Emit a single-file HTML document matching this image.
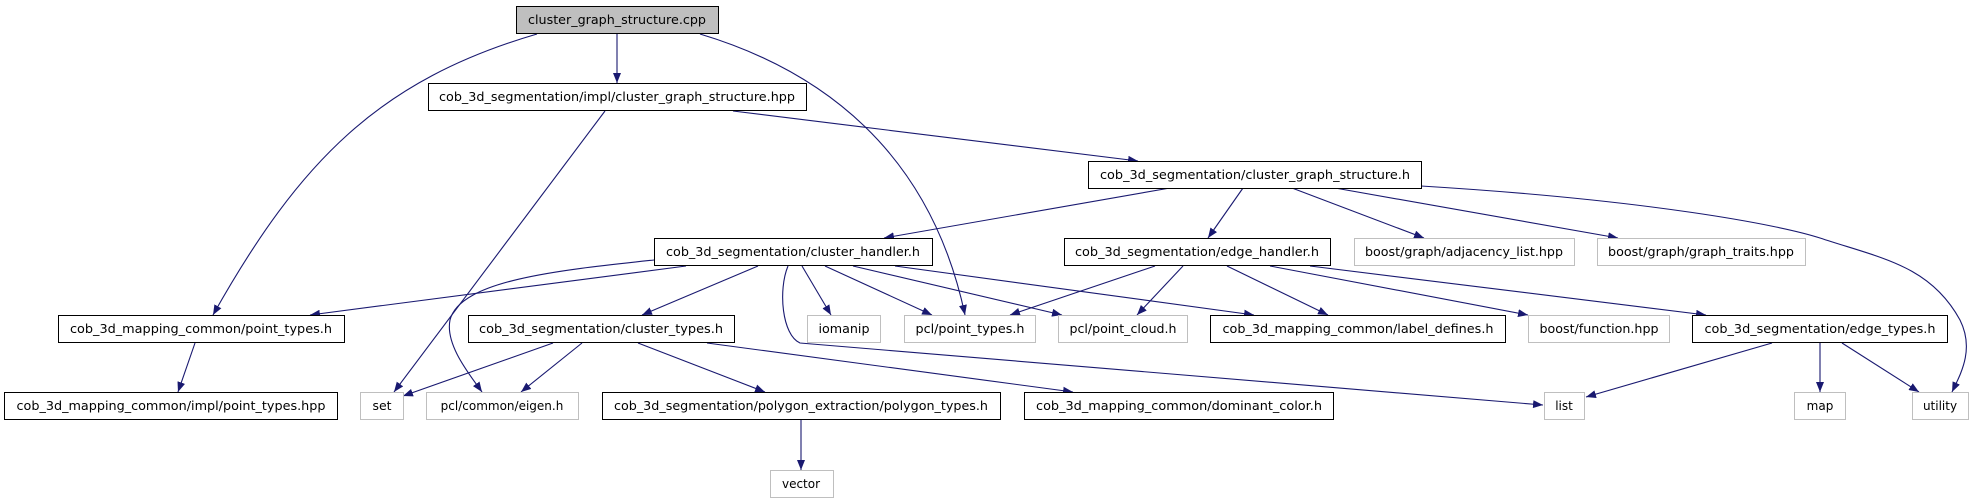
<!DOCTYPE html>
<html><head><meta charset="utf-8"><style>
html,body{margin:0;padding:0;background:#fff;}
svg{display:block;}
text{font-family:"DejaVu Sans","Liberation Sans",sans-serif;font-size:12px;fill:#000;}
</style></head><body>
<svg width="1973" height="504" viewBox="0 0 1973 504" xmlns="http://www.w3.org/2000/svg">
<defs>
<marker id="a" markerWidth="11" markerHeight="8" refX="10" refY="4" orient="auto" markerUnits="userSpaceOnUse">
<path d="M0,0 L10,4 L0,8 Z" fill="#191970"/>
</marker>
</defs>
<g fill="none" stroke="#191970" stroke-width="1.1" marker-end="url(#a)">
<path d="M617,34 L617,83"/>
<path d="M537,34 C380,80 300,160 213,315"/>
<path d="M700,34 C820,70 930,150 965,315"/>
<path d="M733,111 L1138,161"/>
<path d="M605,111 L394,392"/>
<path d="M1170,188 L884,238"/>
<path d="M1243,188 L1208,238"/>
<path d="M1292,188 L1424,238"/>
<path d="M1335,188 L1618,238"/>
<path d="M1421,186 C1650,200 1780,225 1820,238 C1880,258 1930,265 1960,320 C1975,350 1960,375 1952,392"/>
<path d="M686,266 L310,315"/>
<path d="M654,260 C560,270 460,280 450,320 C445,345 470,375 482,392"/>
<path d="M758,266 L642,315"/>
<path d="M802,266 L831,315"/>
<path d="M825,266 L932,315"/>
<path d="M853,266 L1062,315"/>
<path d="M895,266 L1254,315"/>
<path d="M788,266 C778,290 782,335 800,343 L1543,405"/>
<path d="M553,343 L403,396"/>
<path d="M582,343 L521,392"/>
<path d="M638,343 L765,392"/>
<path d="M707,343 L1073,392"/>
<path d="M801,420 L801,470"/>
<path d="M1155,266 L1010,315"/>
<path d="M1183,266 L1137,315"/>
<path d="M1227,266 L1328,315"/>
<path d="M1270,266 L1528,315"/>
<path d="M1310,266 L1706,315"/>
<path d="M1772,343 L1586,397"/>
<path d="M1820,343 L1820,392"/>
<path d="M1842,343 L1919,392"/>
<path d="M195,343 L178,392"/>
</g>
<g stroke-width="1">
<rect x="516.5" y="6.5" width="202" height="27" fill="#bfbfbf" stroke="#000"/>
<rect x="428.5" y="83.5" width="378" height="27" fill="#fff" stroke="#000"/>
<rect x="1088.5" y="161.5" width="333" height="27" fill="#fff" stroke="#000"/>
<rect x="654.5" y="238.5" width="278" height="27" fill="#fff" stroke="#000"/>
<rect x="1064.5" y="238.5" width="266" height="27" fill="#fff" stroke="#000"/>
<rect x="1354.5" y="238.5" width="220" height="27" fill="#fff" stroke="#bfbfbf"/>
<rect x="1597.5" y="238.5" width="208" height="27" fill="#fff" stroke="#bfbfbf"/>
<rect x="58.5" y="315.5" width="286" height="27" fill="#fff" stroke="#000"/>
<rect x="468.5" y="315.5" width="266" height="27" fill="#fff" stroke="#000"/>
<rect x="807.5" y="315.5" width="73" height="27" fill="#fff" stroke="#bfbfbf"/>
<rect x="904.5" y="315.5" width="131" height="27" fill="#fff" stroke="#bfbfbf"/>
<rect x="1058.5" y="315.5" width="129" height="27" fill="#fff" stroke="#bfbfbf"/>
<rect x="1210.5" y="315.5" width="295" height="27" fill="#fff" stroke="#000"/>
<rect x="1528.5" y="315.5" width="141" height="27" fill="#fff" stroke="#bfbfbf"/>
<rect x="1692.5" y="315.5" width="255" height="27" fill="#fff" stroke="#000"/>
<rect x="4.5" y="392.5" width="333" height="27" fill="#fff" stroke="#000"/>
<rect x="360.5" y="392.5" width="43" height="27" fill="#fff" stroke="#bfbfbf"/>
<rect x="426.5" y="392.5" width="152" height="27" fill="#fff" stroke="#bfbfbf"/>
<rect x="602.5" y="392.5" width="398" height="27" fill="#fff" stroke="#000"/>
<rect x="1024.5" y="392.5" width="309" height="27" fill="#fff" stroke="#000"/>
<rect x="1544.5" y="392.5" width="40" height="27" fill="#fff" stroke="#bfbfbf"/>
<rect x="1794.5" y="392.5" width="51" height="27" fill="#fff" stroke="#bfbfbf"/>
<rect x="1912.5" y="392.5" width="56" height="27" fill="#fff" stroke="#bfbfbf"/>
<rect x="770.5" y="470.5" width="63" height="27" fill="#fff" stroke="#bfbfbf"/>
</g>
<g text-anchor="middle" lengthAdjust="spacingAndGlyphs">
<text x="617" y="24" textLength="178" lengthAdjust="spacingAndGlyphs">cluster_graph_structure.cpp</text>
<text x="617" y="101" textLength="356" lengthAdjust="spacingAndGlyphs">cob_3d_segmentation/impl/cluster_graph_structure.hpp</text>
<text x="1255" y="179" textLength="310" lengthAdjust="spacingAndGlyphs">cob_3d_segmentation/cluster_graph_structure.h</text>
<text x="793" y="256" textLength="254" lengthAdjust="spacingAndGlyphs">cob_3d_segmentation/cluster_handler.h</text>
<text x="1197" y="256" textLength="244" lengthAdjust="spacingAndGlyphs">cob_3d_segmentation/edge_handler.h</text>
<text x="1464" y="256" textLength="198" lengthAdjust="spacingAndGlyphs">boost/graph/adjacency_list.hpp</text>
<text x="1701" y="256" textLength="186" lengthAdjust="spacingAndGlyphs">boost/graph/graph_traits.hpp</text>
<text x="201" y="333" textLength="262" lengthAdjust="spacingAndGlyphs">cob_3d_mapping_common/point_types.h</text>
<text x="601" y="333" textLength="244" lengthAdjust="spacingAndGlyphs">cob_3d_segmentation/cluster_types.h</text>
<text x="844" y="333" textLength="51" lengthAdjust="spacingAndGlyphs">iomanip</text>
<text x="970" y="333" textLength="109" lengthAdjust="spacingAndGlyphs">pcl/point_types.h</text>
<text x="1123" y="333" textLength="107" lengthAdjust="spacingAndGlyphs">pcl/point_cloud.h</text>
<text x="1358" y="333" textLength="271" lengthAdjust="spacingAndGlyphs">cob_3d_mapping_common/label_defines.h</text>
<text x="1599" y="333" textLength="119" lengthAdjust="spacingAndGlyphs">boost/function.hpp</text>
<text x="1820" y="333" textLength="231" lengthAdjust="spacingAndGlyphs">cob_3d_segmentation/edge_types.h</text>
<text x="171" y="410" textLength="309" lengthAdjust="spacingAndGlyphs">cob_3d_mapping_common/impl/point_types.hpp</text>
<text x="382" y="410" textLength="19" lengthAdjust="spacingAndGlyphs">set</text>
<text x="502" y="410">pcl/common/eigen.h</text>
<text x="801" y="410" textLength="374" lengthAdjust="spacingAndGlyphs">cob_3d_segmentation/polygon_extraction/polygon_types.h</text>
<text x="1179" y="410" textLength="286" lengthAdjust="spacingAndGlyphs">cob_3d_mapping_common/dominant_color.h</text>
<text x="1564" y="410">list</text>
<text x="1820" y="410">map</text>
<text x="1940" y="410">utility</text>
<text x="801" y="488">vector</text>
</g>
</svg>
</body></html>
